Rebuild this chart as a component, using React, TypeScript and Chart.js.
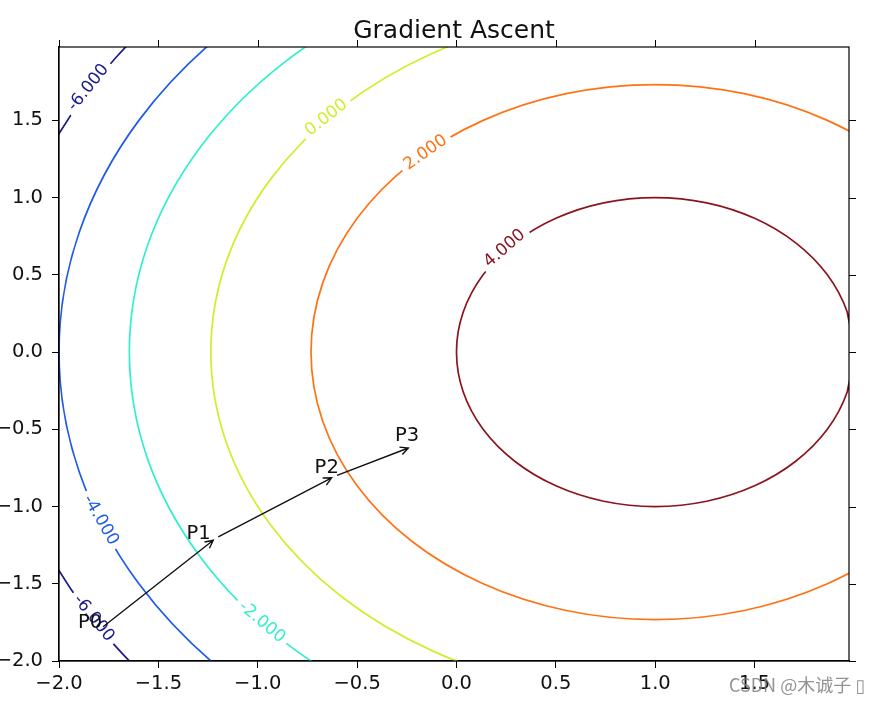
import React, { useEffect, useRef } from 'react';
import { Chart, registerables } from 'chart.js';

Chart.register(...registerables);

// ---- axes ----
const X_MIN = -2.0;
const X_MAX = 1.975;
const Y_MIN = -2.0;
const Y_MAX = 1.975;
const X_TICKS = [-2.0, -1.5, -1.0, -0.5, 0.0, 0.5, 1.0, 1.5];
const Y_TICKS = [-2.0, -1.5, -1.0, -0.5, 0.0, 0.5, 1.0, 1.5];
const TITLE = 'Gradient Ascent';

// ---- contour levels ----
const LEVELS = [-6, -4, -2, 0, 2, 4];
const LEVEL_COLORS = ['#1c1a8a', '#1f5be8', '#30f0cc', '#cdf02a', '#ff7214', '#8a1420'];

// level -6 (two arcs at left)
const CM6_TOP_X = [-1.345, -1.541, -1.717, -1.872, -2.006, -2.117];
const CM6_TOP_Y = [2.345, 2.132, 1.902, 1.658, 1.402, 1.134];
const CM6_BOT_X = [-2.117, -2.006, -1.872, -1.717, -1.541, -1.345];
const CM6_BOT_Y = [-1.134, -1.402, -1.658, -1.902, -2.132, -2.345];

// level -4
const CM4_X = [0.224, -0.5, -1.121, -1.598, -1.898, -2.0, -1.898, -1.598, -1.121, -0.5, 0.224];
const CM4_Y = [2.898, 2.598, 2.121, 1.5, 0.776, 0.0, -0.776, -1.5, -2.121, -2.598, -2.898];

// level -2
const CM2_X = [0.315, -0.323, -0.871, -1.291, -1.556, -1.646, -1.556, -1.291, -0.871, -0.323, 0.315];
const CM2_Y = [2.556, 2.291, 1.871, 1.323, 0.685, 0.0, -0.685, -1.323, -1.871, -2.291, -2.556];

// level 0
const C0_X = [1.579, 1.0, 0.421, -0.118, -0.581, -0.936, -1.16, -1.236, -1.16, -0.936, -0.581, -0.118, 0.421, 1.0, 1.579];
const C0_Y = [2.16, 2.236, 2.16, 1.936, 1.581, 1.118, 0.579, 0.0, -0.579, -1.118, -1.581, -1.936, -2.16, -2.236, -2.16];

// level 2
const C2_X = [2.5, 2.225, 1.866, 1.448, 1.0, 0.552, 0.134, -0.225, -0.5, -0.673, -0.732, -0.673, -0.5, -0.225, 0.134, 0.552, 1.0, 1.448, 1.866, 2.225, 2.5];
const C2_Y = [0.866, 1.225, 1.5, 1.673, 1.732, 1.673, 1.5, 1.225, 0.866, 0.448, 0.0, -0.448, -0.866, -1.225, -1.5, -1.673, -1.732, -1.673, -1.5, -1.225, -0.866];

// level 4
const C4_X = [1.966, 2.0, 1.966, 1.866, 1.707, 1.5, 1.259, 1.0, 0.741, 0.5, 0.293, 0.134, 0.034, 0.0, 0.034, 0.134, 0.293, 0.5, 0.741, 1.0, 1.259, 1.5, 1.707, 1.866, 1.966, 2.0, 1.966];
const C4_Y = [-0.259, 0.0, 0.259, 0.5, 0.707, 0.866, 0.966, 1.0, 0.966, 0.866, 0.707, 0.5, 0.259, 0.0, -0.259, -0.5, -0.707, -0.866, -0.966, -1.0, -0.966, -0.866, -0.707, -0.5, -0.259, 0.0, 0.259];

// ---- inline contour labels ----
const CLABEL_TEXT = ['-6.000', '-6.000', '-4.000', '-2.000', '0.000', '2.000', '4.000'];
const CLABEL_LEVEL = [0, 0, 1, 2, 3, 4, 5];
const CLABEL_X = [-1.854, -1.824, -1.789, -0.978, -0.656, -0.157, 0.241];
const CLABEL_Y = [1.714, -1.721, -1.087, -1.746, 1.52, 1.294, 0.673];
const CLABEL_ANGLE = [-51, 51, 60, 40, -38, -35, -41];

// ---- gradient ascent path ----
const P_NAMES = ['P0', 'P1', 'P2', 'P3'];
const P_X = [-1.79, -1.212, -0.615, -0.228];
const P_Y = [-1.79, -1.206, -0.805, -0.614];
const P_TEXT_X = [-1.844, -1.298, -0.653, -0.248];
const P_TEXT_Y = [-1.756, -1.18, -0.75, -0.543];

const WATERMARK = 'CSDN @木诚子 \u25AF';

const FONT = '"DejaVu Sans", "Liberation Sans", sans-serif';

function fmtTick(v: number | string): string {
  const n = Number(v);
  const s = Math.abs(n).toFixed(1);
  return n < -1e-9 ? '\u2212' + s : s;
}

function series(xs: number[], ys: number[], color: string) {
  return {
    data: xs.map((v, i) => ({ x: v, y: ys[i] })),
    borderColor: color,
    backgroundColor: color,
    borderWidth: 1.7,
    pointRadius: 0,
    pointHoverRadius: 0,
    showLine: true,
    tension: 0.33,
    fill: false,
  };
}

const overlayPlugin = {
  id: 'overlay',
  afterDatasetsDraw(chart: any) {
    const { ctx, chartArea } = chart;
    const xs = chart.scales.x;
    const ys = chart.scales.y;
    ctx.save();
    ctx.beginPath();
    ctx.rect(chartArea.left, chartArea.top, chartArea.right - chartArea.left, chartArea.bottom - chartArea.top);
    ctx.clip();
    ctx.font = `17px ${FONT}`;
    CLABEL_TEXT.forEach((t, i) => {
      const px = xs.getPixelForValue(CLABEL_X[i]);
      const py = ys.getPixelForValue(CLABEL_Y[i]);
      const w = ctx.measureText(t).width;
      ctx.save();
      ctx.translate(px, py);
      ctx.rotate((CLABEL_ANGLE[i] * Math.PI) / 180);
      ctx.fillStyle = '#ffffff';
      ctx.fillRect(-w / 2 - 5, -8, w + 10, 16);
      ctx.fillStyle = LEVEL_COLORS[CLABEL_LEVEL[i]];
      ctx.textAlign = 'center';
      ctx.textBaseline = 'middle';
      ctx.fillText(t, 0, 0.5);
      ctx.restore();
    });
    ctx.restore();
  },
  afterDraw(chart: any) {
    const { ctx, chartArea } = chart;
    const xs = chart.scales.x;
    const ys = chart.scales.y;
    const { left, right, top, bottom } = chartArea;
    ctx.save();

    // frame
    ctx.strokeStyle = '#000';
    ctx.lineWidth = 1.2;
    ctx.strokeRect(left, top, right - left, bottom - top);

    // top & right ticks (outward)
    ctx.lineWidth = 1;
    ctx.beginPath();
    X_TICKS.forEach((v) => {
      const px = Math.round(xs.getPixelForValue(v)) + 0.5;
      ctx.moveTo(px, top);
      ctx.lineTo(px, top - 7);
    });
    Y_TICKS.forEach((v) => {
      const py = Math.round(ys.getPixelForValue(v)) + 0.5;
      ctx.moveTo(right, py);
      ctx.lineTo(right + 7, py);
    });
    ctx.stroke();

    // arrows
    ctx.strokeStyle = '#111';
    ctx.lineWidth = 1.4;
    for (let i = 0; i < P_X.length - 1; i++) {
      const x0 = xs.getPixelForValue(P_X[i]);
      const y0 = ys.getPixelForValue(P_Y[i]);
      const x1 = xs.getPixelForValue(P_X[i + 1]);
      const y1 = ys.getPixelForValue(P_Y[i + 1]);
      const dx = x1 - x0;
      const dy = y1 - y0;
      const len = Math.hypot(dx, dy);
      const ux = dx / len;
      const uy = dy / len;
      const sx = x0 + ux * 3;
      const sy = y0 + uy * 3;
      const ex = x1 - ux * 3;
      const ey = y1 - uy * 3;
      ctx.beginPath();
      ctx.moveTo(sx, sy);
      ctx.lineTo(ex, ey);
      const hl = 8;
      const hw = 4;
      ctx.moveTo(ex - ux * hl - uy * hw, ey - uy * hl + ux * hw);
      ctx.lineTo(ex, ey);
      ctx.lineTo(ex - ux * hl + uy * hw, ey - uy * hl - ux * hw);
      ctx.stroke();
    }

    // point labels
    ctx.fillStyle = '#111';
    ctx.font = `19.5px ${FONT}`;
    ctx.textAlign = 'center';
    ctx.textBaseline = 'middle';
    P_NAMES.forEach((n, i) => {
      ctx.fillText(n, xs.getPixelForValue(P_TEXT_X[i]), ys.getPixelForValue(P_TEXT_Y[i]));
    });

    // title
    ctx.fillStyle = '#111';
    ctx.font = `25px ${FONT}`;
    ctx.textAlign = 'center';
    ctx.textBaseline = 'alphabetic';
    ctx.fillText(TITLE, (left + right) / 2, 38);

    // watermark
    ctx.font = `18px "Noto Sans CJK SC", ${FONT}`;
    ctx.fillStyle = 'rgba(120,120,120,0.8)';
    ctx.textAlign = 'left';
    ctx.fillText(WATERMARK, 729, 692);

    ctx.restore();
  },
};

export default function App() {
  const ref = useRef<HTMLCanvasElement>(null);
  useEffect(() => {
    if (!ref.current) return;
    const datasets = [
      series(CM6_TOP_X, CM6_TOP_Y, LEVEL_COLORS[0]),
      series(CM6_BOT_X, CM6_BOT_Y, LEVEL_COLORS[0]),
      series(CM4_X, CM4_Y, LEVEL_COLORS[1]),
      series(CM2_X, CM2_Y, LEVEL_COLORS[2]),
      series(C0_X, C0_Y, LEVEL_COLORS[3]),
      series(C2_X, C2_Y, LEVEL_COLORS[4]),
      series(C4_X, C4_Y, LEVEL_COLORS[5]),
    ].map((d, i) => ({ ...d, label: `level ${LEVELS[Math.max(0, i - 1)]}` }));

    const tickFont = { family: FONT, size: 19.5 };
    const chart = new Chart(ref.current, {
      type: 'scatter',
      data: { datasets: datasets as any },
      options: {
        responsive: false,
        animation: false,
        devicePixelRatio: 1,
        events: [],
        layout: { padding: { left: 0, top: 47, right: 42, bottom: 0 } },
        elements: { line: { capBezierPoints: false } as any },
        plugins: {
          legend: { display: false },
          tooltip: { enabled: false },
          title: { display: false },
        },
        scales: {
          x: {
            type: 'linear',
            min: X_MIN,
            max: X_MAX,
            afterBuildTicks: (s: any) => {
              s.ticks = X_TICKS.map((v) => ({ value: v }));
            },
            afterFit: (s: any) => {
              s.height = 41;
            },
            ticks: {
              font: tickFont,
              color: '#111',
              padding: 4,
              maxRotation: 0,
              autoSkip: false,
              callback: (v: any) => fmtTick(v),
            },
            grid: { drawOnChartArea: false, drawTicks: true, tickLength: 7, color: '#000', lineWidth: 1 },
            border: { display: true, color: '#000', width: 1.2 },
          },
          y: {
            type: 'linear',
            min: Y_MIN,
            max: Y_MAX,
            afterBuildTicks: (s: any) => {
              s.ticks = Y_TICKS.map((v) => ({ value: v }));
            },
            afterFit: (s: any) => {
              s.width = 59;
            },
            ticks: {
              font: tickFont,
              color: '#111',
              padding: 9,
              autoSkip: false,
              callback: (v: any) => fmtTick(v),
            },
            grid: { drawOnChartArea: false, drawTicks: true, tickLength: 7, color: '#000', lineWidth: 1 },
            border: { display: true, color: '#000', width: 1.2 },
          },
        },
      },
      plugins: [overlayPlugin],
    });
    return () => chart.destroy();
  }, []);

  return (
    <div style={{ position: 'absolute', left: 0, top: 0, width: 891, height: 702, background: '#fff' }}>
      <canvas ref={ref} width={891} height={702} style={{ display: 'block', width: 891, height: 702 }} />
    </div>
  );
}
